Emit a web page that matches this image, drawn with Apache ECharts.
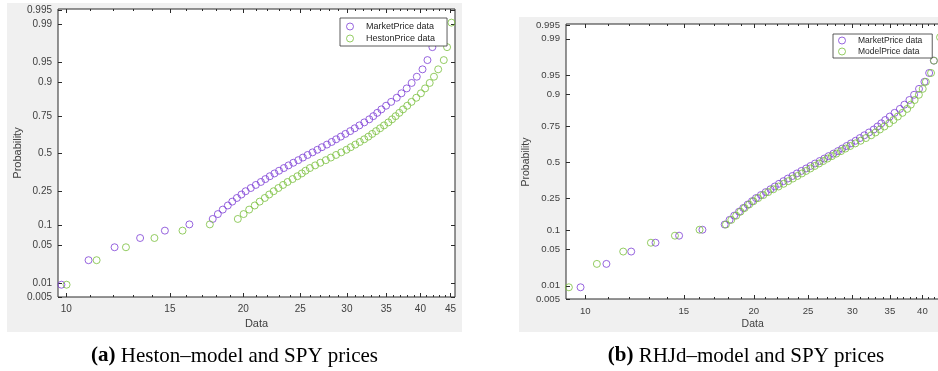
<!DOCTYPE html>
<html>
<head>
<meta charset="utf-8">
<script src="https://cdn.jsdelivr.net/npm/echarts@6/dist/echarts.min.js"></script>
<style>
  html, body { margin: 0; padding: 0; background: #ffffff; }
  #chart { width: 938px; height: 371px; }
</style>
</head>
<body>
<div id="chart"></div>
<script>
// Sorted SPY market prices and the two model price samples (54 values each)
const marketPrice = [9.81, 10.91, 12.08, 13.35, 14.71, 16.19, 17.74, 18.10, 18.45, 18.82,
  19.15, 19.50, 19.85, 20.18, 20.59, 21.00, 21.42, 21.80, 22.18, 22.59,
  23.00, 23.44, 23.87, 24.32, 24.80, 25.25, 25.72, 26.22, 26.72, 27.20,
  27.74, 28.26, 28.76, 29.29, 29.82, 30.39, 30.93, 31.50, 32.11, 32.74,
  33.26, 33.78, 34.33, 34.97, 35.67, 36.46, 37.14, 37.91, 38.65, 39.44,
  40.33, 41.12, 41.92, 43.50];
const hestonPrice = [10.01, 11.26, 12.63, 14.12, 15.76, 17.54, 19.57, 20.02, 20.46, 20.91,
  21.32, 21.75, 22.13, 22.52, 22.94, 23.36, 23.78, 24.25, 24.71, 25.14,
  25.51, 25.95, 26.49, 27.03, 27.62, 28.17, 28.75, 29.34, 29.94, 30.45,
  31.00, 31.55, 32.10, 32.63, 33.12, 33.63, 34.16, 34.69, 35.28, 35.80,
  36.30, 36.83, 37.37, 37.99, 38.63, 39.36, 40.08, 40.74, 41.48, 42.18,
  42.88, 43.83, 44.40, 45.17];
const modelPrice = [9.35, 10.49, 11.69, 13.10, 14.46, 16.00, 17.83, 18.23, 18.60, 18.93,
  19.26, 19.62, 19.97, 20.36, 20.80, 21.22, 21.67, 22.14, 22.60, 23.04,
  23.48, 23.93, 24.37, 24.80, 25.24, 25.69, 26.15, 26.60, 27.07, 27.57,
  28.08, 28.62, 29.15, 29.72, 30.36, 31.02, 31.71, 32.40, 32.99, 33.58,
  34.22, 34.89, 35.51, 36.15, 36.85, 37.57, 38.13, 38.74, 39.42, 40.05,
  40.57, 41.44, 41.94, 43.00];

// Tick labels
const dataTicks = [10, 15, 20, 25, 30, 35, 40, 45];
const probTicks = [0.005, 0.01, 0.05, 0.1, 0.25, 0.5, 0.75, 0.9, 0.95, 0.99, 0.995];

const seriesNames = {
  market: 'MarketPrice data',
  heston: 'HestonPrice data',
  model: 'ModelPrice data'
};

const PURPLE = '#7d3fd6';
const GREEN = '#79bf3c';
const AXIS = '#2b2b2b';
const TEXT = '#404040';
const FONT = '"Liberation Sans", Arial, Helvetica, sans-serif';
const SERIF = '"Liberation Serif", "Times New Roman", serif';

// Inverse standard normal CDF (Acklam's rational approximation)
function norminv(p) {
  const a = [-3.969683028665376e+01, 2.209460984245205e+02, -2.759285104469687e+02,
             1.383577518672690e+02, -3.066479806614716e+01, 2.506628277459239e+00];
  const b = [-5.447609879822406e+01, 1.615858368580409e+02, -1.556989798598866e+02,
             6.680131188771972e+01, -1.328068155288572e+01];
  const c = [-7.784894002430293e-03, -3.223964580411365e-01, -2.400758277161838e+00,
             -2.549732539343734e+00, 4.374664141464968e+00, 2.938163982698783e+00];
  const d = [7.784695709041462e-03, 3.224671290700398e-01, 2.445134137142996e+00,
             3.754408661907416e+00];
  const pl = 0.02425, ph = 1 - pl;
  let q, r;
  if (p < pl) {
    q = Math.sqrt(-2 * Math.log(p));
    return (((((c[0]*q + c[1])*q + c[2])*q + c[3])*q + c[4])*q + c[5]) /
           ((((d[0]*q + d[1])*q + d[2])*q + d[3])*q + 1);
  }
  if (p > ph) {
    q = Math.sqrt(-2 * Math.log(1 - p));
    return -(((((c[0]*q + c[1])*q + c[2])*q + c[3])*q + c[4])*q + c[5]) /
            ((((d[0]*q + d[1])*q + d[2])*q + d[3])*q + 1);
  }
  q = p - 0.5; r = q * q;
  return (((((a[0]*r + a[1])*r + a[2])*r + a[3])*r + a[4])*r + a[5]) * q /
         (((((b[0]*r + b[1])*r + b[2])*r + b[3])*r + b[4])*r + 1);
}

// Lognormal probability plot: x = ln(price), y = normal quantile of (i - 0.5) / n
function probPlotPoints(values) {
  const sorted = values.slice().sort((u, v) => u - v);
  const n = sorted.length;
  return sorted.map((v, i) => [Math.log(v), norminv((i + 0.5) / n)]);
}

const xMajor = dataTicks.map(Math.log);
const xMinor = [];
for (let t = dataTicks[0]; t <= dataTicks[dataTicks.length - 1]; t++) xMinor.push(Math.log(t));
const yMajor = probTicks.map(norminv);

function xLabel(v) {
  const k = xMajor.findIndex(t => Math.abs(t - v) < 1e-9);
  return k >= 0 ? String(dataTicks[k]) : '';
}
function yLabel(v) {
  const k = yMajor.findIndex(t => Math.abs(t - v) < 1e-9);
  return k >= 0 ? String(probTicks[k]) : '';
}

function xAxesFor(gridIndex, min, max, fontSize) {
  const base = { type: 'value', gridIndex, min, max, scale: true,
                 splitLine: { show: false }, axisLine: { show: false, onZero: false } };
  const tick = (vals, len) => ({ show: true, inside: true, length: len, customValues: vals,
                                 lineStyle: { color: AXIS, width: 1 } });
  return [
    Object.assign({}, base, { position: 'bottom', axisTick: tick(xMajor, 4),
      axisLabel: { show: true, customValues: xMajor, formatter: xLabel, margin: 7,
                   fontSize, color: TEXT, fontFamily: FONT } }),
    Object.assign({}, base, { position: 'bottom', axisTick: tick(xMinor, 2), axisLabel: { show: false } }),
    Object.assign({}, base, { position: 'top', axisTick: tick(xMajor, 4), axisLabel: { show: false } }),
    Object.assign({}, base, { position: 'top', axisTick: tick(xMinor, 2), axisLabel: { show: false } })
  ];
}

function yAxesFor(gridIndex, min, max, fontSize) {
  const base = { type: 'value', gridIndex, min, max, scale: true,
                 splitLine: { show: false }, axisLine: { show: false, onZero: false } };
  const tick = { show: true, inside: true, length: 4, customValues: yMajor,
                 lineStyle: { color: AXIS, width: 1 } };
  return [
    Object.assign({}, base, { position: 'left', axisTick: tick,
      axisLabel: { show: true, customValues: yMajor, formatter: yLabel, margin: 6,
                   fontSize, color: TEXT, fontFamily: FONT, showMinLabel: true, showMaxLabel: true } }),
    Object.assign({}, base, { position: 'right', axisTick: tick, axisLabel: { show: false } })
  ];
}

function scatter(name, values, xAxisIndex, yAxisIndex, color) {
  return {
    type: 'scatter', name, xAxisIndex, yAxisIndex,
    data: probPlotPoints(values),
    symbol: 'circle', symbolSize: 7,
    itemStyle: { color: 'rgba(0,0,0,0)', borderColor: color, borderWidth: 1 },
    emphasis: { disabled: true },
    z: 3
  };
}

function legendFor(left, top, padding, itemGap, fontSize, names, colors) {
  return {
    orient: 'vertical', left, top, padding, itemGap,
    itemWidth: 22, itemHeight: 7, icon: 'circle',
    backgroundColor: '#ffffff', borderColor: '#333333', borderWidth: 0.8, borderRadius: 0,
    selectedMode: false, z: 10,
    textStyle: { fontSize, color: '#262626', fontFamily: FONT },
    data: names.map((nm, k) => ({
      name: nm,
      itemStyle: { color: 'rgba(0,0,0,0)', borderColor: colors[k], borderWidth: 1 }
    }))
  };
}

const zLow = norminv(0.005);
const xA = xAxesFor(0, Math.log(9.68), Math.log(45.8), 10);
const xB = xAxesFor(1, Math.log(9.24), Math.log(44.07), 9.6);
const yA = yAxesFor(0, zLow, 2.60, 10);
const yB = yAxesFor(1, zLow, 2.605, 9.6);

const option = {
  animation: false,
  backgroundColor: '#ffffff',
  grid: [
    { left: 58, top: 9, width: 397, height: 288, show: true, backgroundColor: '#ffffff',
      borderColor: AXIS, borderWidth: 1, containLabel: false, outerBoundsMode: 'none' },
    { left: 566, top: 24, width: 380, height: 275, show: true, backgroundColor: '#ffffff',
      borderColor: AXIS, borderWidth: 1, containLabel: false, outerBoundsMode: 'none' }
  ],
  xAxis: xA.concat(xB),
  yAxis: yA.concat(yB),
  legend: [
    legendFor(340, 18, [4, 12, 3, 6], 3, 9, [seriesNames.market, seriesNames.heston], [PURPLE, GREEN]),
    legendFor(833, 34, [2, 10, 2, 5], 2, 8.5, [seriesNames.market, seriesNames.model], [PURPLE, GREEN])
  ],
  series: [
    scatter(seriesNames.market, marketPrice, 0, 0, PURPLE),
    scatter(seriesNames.heston, hestonPrice, 0, 0, GREEN),
    scatter(seriesNames.market, marketPrice, 4, 2, PURPLE),
    scatter(seriesNames.model, modelPrice, 4, 2, GREEN)
  ],
  graphic: [
    { type: 'rect', z: -10, shape: { x: 7, y: 3, width: 455, height: 329 }, style: { fill: '#f0f0f0' }, silent: true },
    { type: 'rect', z: -10, shape: { x: 519, y: 17, width: 419, height: 315 }, style: { fill: '#f0f0f0' }, silent: true },
    { type: 'text', x: 18, y: 153, rotation: Math.PI / 2,
      style: { text: 'Probability', fontSize: 11, fill: TEXT, fontFamily: FONT, align: 'center', verticalAlign: 'middle' } },
    { type: 'text', x: 256.5, y: 324,
      style: { text: 'Data', fontSize: 11, fill: TEXT, fontFamily: FONT, align: 'center', verticalAlign: 'middle' } },
    { type: 'text', x: 526, y: 162, rotation: Math.PI / 2,
      style: { text: 'Probability', fontSize: 10.5, fill: TEXT, fontFamily: FONT, align: 'center', verticalAlign: 'middle' } },
    { type: 'text', x: 752.7, y: 324.3,
      style: { text: 'Data', fontSize: 10.5, fill: TEXT, fontFamily: FONT, align: 'center', verticalAlign: 'middle' } },
    { type: 'text', x: 234.5, y: 356,
      style: { text: '{b|(a)} Heston–model and SPY prices', fontSize: 21, fill: '#000000',
               fontFamily: SERIF, align: 'center', verticalAlign: 'middle',
               rich: { b: { fontWeight: 'bold', fontSize: 21, fontFamily: SERIF } } } },
    { type: 'text', x: 746, y: 356,
      style: { text: '{b|(b)} RHJd–model and SPY prices', fontSize: 21, fill: '#000000',
               fontFamily: SERIF, align: 'center', verticalAlign: 'middle',
               rich: { b: { fontWeight: 'bold', fontSize: 21, fontFamily: SERIF } } } }
  ]
};

const chart = echarts.init(document.getElementById('chart'), null, { renderer: 'canvas', width: 938, height: 371 });
chart.setOption(option);
</script>
</body>
</html>
